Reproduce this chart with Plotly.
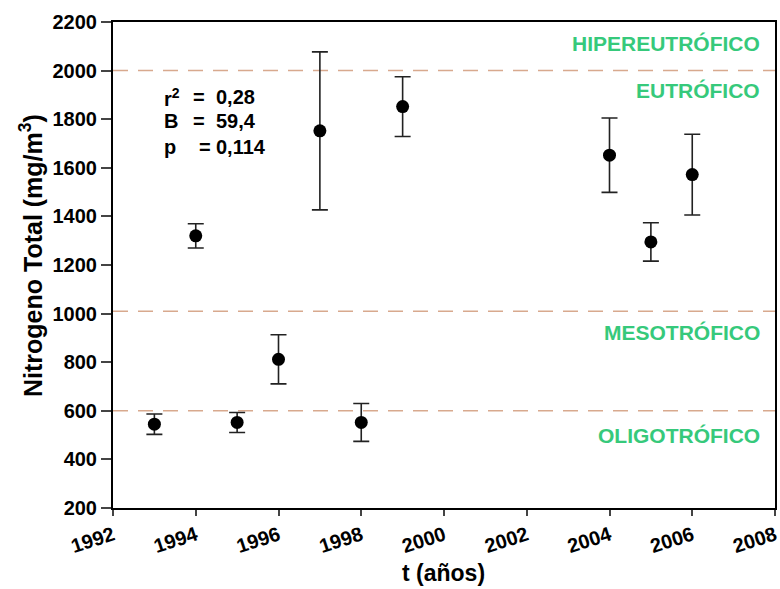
import plotly.graph_objects as go

years = [1993, 1994, 1995, 1996, 1997, 1998, 1999, 2004, 2005, 2006]
nitrogen = [545, 1320, 552, 812, 1752, 552, 1852, 1652, 1295, 1572]
err = [42, 50, 41, 101, 325, 78, 123, 153, 79, 166]

thresholds = [2000, 1010, 600]
zone_labels = ["HIPEREUTRÓFICO", "EUTRÓFICO", "MESOTRÓFICO", "OLIGOTRÓFICO"]
zone_label_y = [2113, 1920, 924, 500]

stat_names = ["r<sup>2</sup>", "B", "p"]
stat_values = ["0,28", "59,4", "0,114"]

FONT = "Liberation Sans"
GREEN = "#36c97b"
DASH = "#d8a98e"

W, H = 780, 589
L, R, T, B = 113, 5, 22, 81
pw, ph = W - L - R, H - T - B


def px_x(px):
    return (px - L) / pw


def px_y(py):
    return (H - B - py) / ph


fig = go.Figure()

for t in thresholds:
    fig.add_trace(go.Scatter(
        x=[1992, 2008], y=[t, t], mode="lines",
        line=dict(color=DASH, width=1.5, dash="15px,10px"),
        hoverinfo="skip", showlegend=False))

fig.add_trace(go.Scatter(
    x=years, y=nitrogen, mode="markers",
    marker=dict(color="black", size=13),
    error_y=dict(type="data", array=err, visible=True, color="#222222",
                 thickness=1.6, width=8),
    showlegend=False))

for txt, yv in zip(zone_labels, zone_label_y):
    fig.add_annotation(x=px_x(762), xref="paper", y=yv, yref="y", text=f"<b>{txt}</b>",
                       showarrow=False, xanchor="right", yanchor="middle",
                       font=dict(family=FONT, size=21, color=GREEN))

row_y = [97, 121, 147]
eq_x = [191, 191, 197]
for name, val, py, ex in zip(stat_names, stat_values, row_y, eq_x):
    f = dict(family=FONT, size=20, color="black")
    fig.add_annotation(x=px_x(162), xref="paper", y=px_y(py), yref="paper",
                       text=f"<b>{name}</b>", showarrow=False,
                       xanchor="left", yanchor="middle", font=f)
    fig.add_annotation(x=px_x(ex), xref="paper", y=px_y(py), yref="paper",
                       text="<b>=</b>", showarrow=False,
                       xanchor="left", yanchor="middle", font=f)
    fig.add_annotation(x=px_x(214), xref="paper", y=px_y(py), yref="paper",
                       text=f"<b>{val}</b>", showarrow=False,
                       xanchor="left", yanchor="middle", font=f)

fig.add_annotation(x=px_x(443), xref="paper", y=px_y(573), yref="paper",
                   text="<b>t (años)</b>", showarrow=False,
                   xanchor="center", yanchor="middle",
                   font=dict(family=FONT, size=23, color="black"))
fig.add_annotation(x=px_x(31), xref="paper", y=px_y(256), yref="paper",
                   text="<b>Nitrogeno Total (mg/m<sup>3</sup>)</b>", textangle=-90,
                   showarrow=False, xanchor="center", yanchor="middle",
                   font=dict(family=FONT, size=25, color="black"))

fig.update_layout(
    width=W, height=H,
    margin=dict(l=L, r=R, t=T, b=B),
    plot_bgcolor="white", paper_bgcolor="white",
    font=dict(family=FONT, color="black"),
    xaxis=dict(range=[1992, 2008], tickvals=list(range(1992, 2009, 2)),
               tickangle=-18, ticks="outside", ticklen=6, tickwidth=1.5,
               ticklabeloverflow="allow",
               showgrid=False, zeroline=False, showline=True, linewidth=2,
               linecolor="black", mirror=True, automargin=False,
               tickfont=dict(family=FONT, size=20, weight="bold")),
    yaxis=dict(range=[200, 2200], tickvals=list(range(200, 2201, 200)),
               ticks="outside", ticklen=10, tickwidth=1.5,
               showgrid=False, zeroline=False, showline=True, linewidth=2,
               linecolor="black", mirror=True, automargin=False,
               tickfont=dict(family=FONT, size=20, weight="bold")),
)

fig.write_html("out.html", config={"displayModeBar": False},
               post_script="document.body.style.margin='0';document.body.style.overflow='hidden';")
